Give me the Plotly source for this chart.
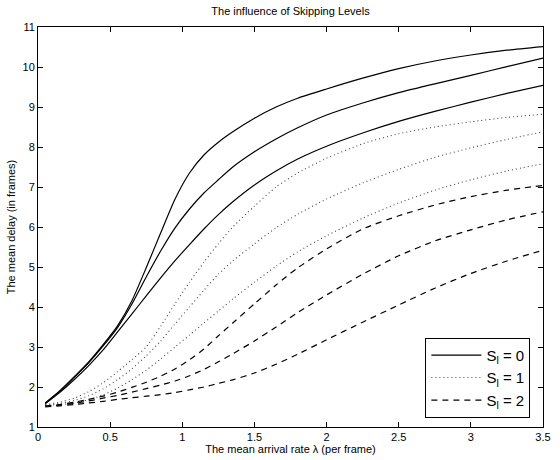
import plotly.graph_objects as go

# arrival rate (frames^-1)
lam = [0.05, 0.15, 0.25, 0.35, 0.45, 0.55, 0.65, 0.75, 0.85, 0.95, 1.05, 1.15,
       1.25, 1.35, 1.5, 1.65, 1.8, 2.0, 2.25, 2.5, 2.75, 3.0, 3.25, 3.5]

# mean delay (frames) for skipping level S_l = 0
delay_s0_a = [1.60, 1.90, 2.25, 2.62, 3.05, 3.52, 4.15, 4.98, 5.85, 6.70, 7.35, 7.80,
              8.12, 8.38, 8.72, 9.00, 9.22, 9.45, 9.72, 9.96, 10.15, 10.30, 10.42, 10.51]
delay_s0_b = [1.59, 1.89, 2.24, 2.60, 3.02, 3.48, 4.07, 4.75, 5.40, 5.98, 6.45, 6.85,
              7.18, 7.50, 7.88, 8.20, 8.48, 8.80, 9.10, 9.36, 9.58, 9.79, 10.01, 10.22]
delay_s0_c = [1.58, 1.86, 2.18, 2.53, 2.92, 3.37, 3.82, 4.28, 4.73, 5.16, 5.56, 5.95,
              6.31, 6.63, 7.05, 7.40, 7.70, 8.02, 8.35, 8.64, 8.89, 9.12, 9.34, 9.54]

# S_l = 1
delay_s1_a = [1.56, 1.62, 1.72, 1.88, 2.10, 2.38, 2.68, 3.00, 3.52, 4.08, 4.62, 5.12,
              5.58, 6.00, 6.52, 7.00, 7.35, 7.72, 8.08, 8.33, 8.50, 8.63, 8.74, 8.82]
delay_s1_b = [1.55, 1.59, 1.66, 1.78, 1.95, 2.18, 2.45, 2.78, 3.15, 3.58, 4.00, 4.42,
              4.82, 5.15, 5.58, 5.98, 6.32, 6.70, 7.10, 7.44, 7.74, 7.98, 8.19, 8.38]
delay_s1_c = [1.54, 1.56, 1.60, 1.68, 1.80, 1.97, 2.18, 2.42, 2.70, 3.00, 3.30, 3.60,
              3.90, 4.20, 4.62, 5.02, 5.38, 5.78, 6.22, 6.60, 6.92, 7.18, 7.40, 7.58]

# S_l = 2
delay_s2_a = [1.52, 1.56, 1.62, 1.69, 1.77, 1.87, 1.99, 2.12, 2.27, 2.45, 2.68, 2.95,
              3.28, 3.60, 4.08, 4.55, 4.98, 5.45, 5.95, 6.28, 6.55, 6.76, 6.92, 7.04]
delay_s2_b = [1.52, 1.55, 1.59, 1.65, 1.72, 1.79, 1.87, 1.96, 2.05, 2.15, 2.28, 2.44,
              2.63, 2.83, 3.15, 3.50, 3.86, 4.30, 4.82, 5.28, 5.65, 5.93, 6.18, 6.38]
delay_s2_c = [1.50, 1.53, 1.56, 1.60, 1.64, 1.69, 1.73, 1.77, 1.81, 1.86, 1.93, 2.00,
              2.09, 2.18, 2.35, 2.57, 2.82, 3.18, 3.62, 4.05, 4.47, 4.84, 5.15, 5.42]

level_names = ["S<sub>l</sub> = 0", "S<sub>l</sub> = 1", "S<sub>l</sub> = 2"]
groups = [
    [delay_s0_a, delay_s0_b, delay_s0_c],
    [delay_s1_a, delay_s1_b, delay_s1_c],
    [delay_s2_a, delay_s2_b, delay_s2_c],
]
x_ticks = [0, 0.5, 1, 1.5, 2, 2.5, 3, 3.5]
x_tick_text = ["0", "0.5", "1", "1.5", "2", "2.5", "3", "3.5"]
y_ticks = list(range(1, 12))

styles = [
    dict(color="black", width=1.2, dash="solid"),
    dict(color="#444444", width=1.1, dash="1px,3px"),
    dict(color="black", width=1.2, dash="6px,5px"),
]

fig = go.Figure()
for group, name, style in zip(groups, level_names, styles):
    for i, ys in enumerate(group):
        fig.add_trace(go.Scatter(
            x=lam, y=ys, mode="lines",
            line=dict(shape="spline", smoothing=0.6, **style),
            name=name, legendgroup=name, showlegend=(i == 0),
            hoverinfo="skip",
        ))

axis_common = dict(
    showline=True, linecolor="black", linewidth=1, mirror="ticks",
    ticks="inside", ticklen=5, tickcolor="black", showgrid=False,
    zeroline=False, tickfont=dict(size=11, color="black"),
)

fig.update_layout(
    width=560, height=460,
    margin=dict(l=38, r=9, t=27, b=29),
    paper_bgcolor="white", plot_bgcolor="white",
    font=dict(family="Liberation Sans, Arial, sans-serif", color="black", size=11),
    title=dict(text="The influence of Skipping Levels", x=0.5, xref="paper",
               y=0.976, yref="container", yanchor="middle",
               font=dict(size=11)),
    xaxis=dict(range=[0, 3.5], tickvals=x_ticks, ticktext=x_tick_text,
               title=dict(text="The mean arrival rate λ (per frame)",
                          standoff=0, font=dict(size=11)),
               **axis_common),
    yaxis=dict(range=[1, 11], tickvals=y_ticks,
               title=dict(text="The mean delay (in frames)",
                          standoff=4, font=dict(size=11)),
               **axis_common),
    legend=dict(x=0.975, y=0.023, xanchor="right", yanchor="bottom",
                bordercolor="black", borderwidth=1, bgcolor="white",
                font=dict(size=15), itemwidth=50, tracegroupgap=0,
                entrywidth=95, entrywidthmode="pixels"),
    showlegend=True,
)

fig.write_html("out.html")
